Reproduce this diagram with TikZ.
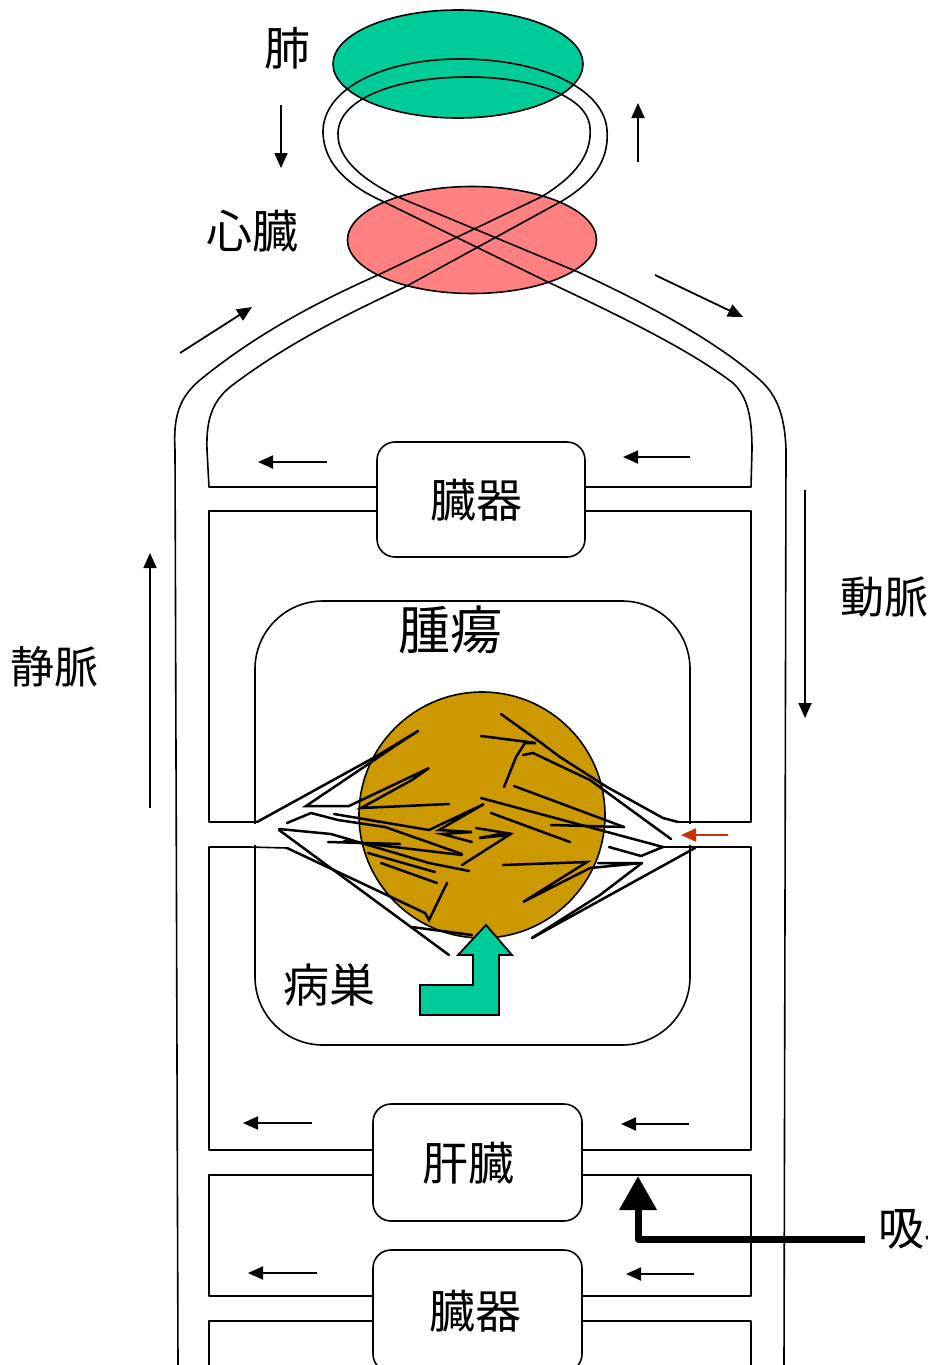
\documentclass[tikz,border=0pt]{standalone}
\usepackage{fontspec}
\newfontfamily\jp{Noto Sans CJK JP}
\usetikzlibrary{arrows.meta,shapes.geometric}
\definecolor{lunggreen}{HTML}{00CC99}
\definecolor{heartred}{HTML}{FF8080}
\definecolor{tumorbrown}{HTML}{CC9900}
\definecolor{flowred}{HTML}{CC3300}

\begin{document}
\begin{tikzpicture}[x=1pt,y=-1pt,
  wall/.style={line width=1.6pt, line join=round},
  vessel/.style={line width=2.5pt, line join=miter, line cap=round},
  flow/.style={line width=1.8pt, -{Triangle[length=15pt,width=13pt]}},
  organ/.style={draw, line width=1.6pt, rounded corners=18pt, fill=white,
    minimum width=208pt, minimum height=115pt, inner sep=0pt},
  lbl/.style={font=\jp\fontsize{46}{46}\selectfont, inner sep=0pt}
]
\useasboundingbox (0,0) rectangle (928,1365);
\fill[white] (0,0) rectangle (928,1365);

% lungs and heart
\node[draw, ellipse, fill=lunggreen, line width=1.6pt,
  minimum width=250pt, minimum height=108pt] (lung) at (458,64) {};
\node[draw, ellipse, fill=heartred, line width=1.6pt,
  minimum width=249pt, minimum height=107pt] (heart) at (472,240) {};

% organ boxes
\node[organ] (organA) at (481,499.5) {};
\node[organ, minimum width=209pt, minimum height=117pt] (liver) at (477.5,1162.5) {};
\node[organ, minimum width=209pt, minimum height=122pt] (organB) at (477.5,1311) {};
\node[lbl] (organAtext) at (476,500) {臓器};
\node[lbl] (livertext) at (468,1163) {肝臓};
\node[lbl] (organBtext) at (475,1311) {臓器};

% branch corner points on the vein (left) and artery (right)
\coordinate (vA1) at (209,487);  \coordinate (aA1) at (751,487);
\coordinate (vA2) at (209,511);  \coordinate (aA2) at (751,511);
\coordinate (vT1) at (209,822);  \coordinate (aT1) at (751,822);
\coordinate (vT2) at (209,847);  \coordinate (aT2) at (751,847);
\coordinate (vL1) at (209,1150); \coordinate (aL1) at (751,1150);
\coordinate (vL2) at (209,1175); \coordinate (aL2) at (751,1175);
\coordinate (vB1) at (209,1296); \coordinate (aB1) at (751,1296);
\coordinate (vB2) at (209,1321); \coordinate (aB2) at (751,1321);
\coordinate (vEnd) at (209,1365); \coordinate (aEnd) at (751,1365);

% outer wall: vein -> inner loop through the lung -> artery
\draw[wall] (178,1365) -- (175,450)
  .. controls (173,415) and (180,397) .. (200,380)
  .. controls (255,335) and (315,303) .. (378,275)
  -- (541,197)
  .. controls (578,175) and (592,152) .. (590,128)
  .. controls (588,95) and (530,77) .. (468,77)
  .. controls (400,77) and (339,97) .. (338,133)
  .. controls (337,160) and (365,181) .. (398,197)
  -- (578,272)
  .. controls (645,303) and (715,340) .. (760,380)
  .. controls (778,396) and (785,418) .. (786,450)
  -- (784,1365);

% inner wall: vein -> outer loop through the lung -> artery
\draw[wall] (organA.west |- vA1) -- (vA1) -- (207,450)
  .. controls (206,420) and (212,402) .. (230,387)
  .. controls (285,345) and (345,315) .. (405,287)
  -- (562,201)
  .. controls (597,180) and (609,157) .. (607,130)
  .. controls (604,88) and (540,59) .. (460,59)
  .. controls (385,59) and (322,88) .. (323,133)
  .. controls (324,165) and (350,186) .. (380,200)
  -- (550,283)
  .. controls (620,316) and (690,350) .. (733,383)
  .. controls (748,397) and (752,418) .. (752,450)
  -- (aA1) -- (organA.east |- aA1);

% tumour compartment
\draw[wall, fill=white, rounded corners=68pt] (255,601) rectangle (690,1045);
\fill[white] (250,823.6) rectangle (696,845.4);
\node[lbl, font=\jp\fontsize{52}{52}\selectfont] (tumorlabel) at (450,630) {腫瘍};

% branch walls
\draw[wall] (organA.west |- vA2) -- (vA2) -- (vT1) -- (257,822);
\draw[wall] (organA.east |- aA2) -- (aA2) -- (aT1) -- (678,822);
\draw[wall] (liver.west |- vL1) -- (vL1) -- (vT2) -- (250,847) -- (287,848);
\draw[wall] (liver.east |- aL1) -- (aL1) -- (aT2) -- (663,847);
\draw[wall] (liver.west |- vL2) -- (vL2) -- (vB1) -- (organB.west |- vB1);
\draw[wall] (liver.east |- aL2) -- (aL2) -- (aB1) -- (organB.east |- aB1);
\draw[wall] (organB.west |- vB2) -- (vB2) -- (vEnd);
\draw[wall] (organB.east |- aB2) -- (aB2) -- (aEnd);

% tumour mass
\node[circle, draw, fill=tumorbrown, line width=1.6pt, minimum size=246pt, inner sep=0pt]
  (tumor) at (482,815) {};

% tumour vessels
\draw[vessel] (257,822) -- (375,757) -- (418,731);
\draw[vessel] (418,731) -- (398,744) -- (306,806) -- (349,806) -- (429,768) -- (412,780) -- (361,808) -- (449,804);
\draw[vessel] (334,814) -- (429,830) -- (484,804) -- (439,830) -- (472,832) -- (442,834) -- (472,842);
\draw[vessel] (287,823) -- (311,813) -- (338,820) -- (385,827) -- (462,854);
\draw[vessel] (279,829) -- (331,834) -- (429,863) -- (469,871);
\draw[vessel] (328,842) -- (400,844);
\draw[vessel] (344,841) -- (462,855);
\draw[vessel] (368,853) -- (435,872);
\draw[vessel] (381,863) -- (437,883);
\draw[vessel] (287,848) -- (355,880) -- (425,913) -- (429,920) -- (447,883);
\draw[vessel] (279,830) -- (449,955);
\draw[vessel] (412,927) -- (472,935);
\draw[vessel] (481,736) -- (536,743) -- (525,743) -- (516,757) -- (504,787);
\draw[vessel] (501,714) -- (540,742) -- (560,757) -- (607,787) -- (663,818) -- (678,822);
\draw[vessel] (523,755) -- (533,753) -- (590,780) -- (671,839);
\draw[vessel] (514,786) -- (624,827);
\draw[vessel] (481,798) -- (663,847) -- (641,856) -- (609,847);
\draw[vessel] (491,813) -- (570,842);
\draw[vessel] (551,825) -- (624,827);
\draw[vessel] (476,828) -- (506,833) -- (479,838) -- (509,835) -- (462,865);
\draw[vessel] (503,865) -- (587,862) -- (523,902) -- (590,868) -- (642,863) -- (598,863);
\draw[vessel] (532,938) -- (600,895) -- (642,863);
\draw[vessel] (532,938) -- (695,848);

% focus arrow
\draw[line width=1.8pt, fill=lunggreen, line join=miter]
  (420,985) -- (473,985) -- (473,955) -- (458,955) -- (486,925) -- (512,955)
  -- (499,955) -- (499,1015) -- (420,1015) -- cycle;

% flow arrows
\coordinate (f1s) at (281,105);  \coordinate (f1e) at (281,168);
\coordinate (f2s) at (638,162);  \coordinate (f2e) at (638,103);
\coordinate (f3s) at (180,353);  \coordinate (f3e) at (252,307);
\coordinate (f4s) at (655,275);  \coordinate (f4e) at (743,317);
\coordinate (f5s) at (327,462);  \coordinate (f5e) at (258,462);
\coordinate (f6s) at (690,457);  \coordinate (f6e) at (623,457);
\coordinate (f7s) at (150,808);  \coordinate (f7e) at (150,553);
\coordinate (f8s) at (805,490);  \coordinate (f8e) at (805,718);
\coordinate (f9s) at (312,1123); \coordinate (f9e) at (243,1123);
\coordinate (f10s) at (689,1124); \coordinate (f10e) at (621,1124);
\coordinate (f11s) at (317,1273); \coordinate (f11e) at (248,1273);
\coordinate (f12s) at (694,1274); \coordinate (f12e) at (626,1274);
\foreach \i in {1,...,12} \draw[flow] (f\i s) -- (f\i e);

\coordinate (rs) at (728,835); \coordinate (re) at (681,835);
\draw[flowred, line width=2pt, -{Triangle[length=15pt,width=13pt]}] (rs) -- (re);

% absorption
\node[lbl, anchor=west] (absorb) at (878,1228) {吸収};
\coordinate (abs0) at (865,1239);
\coordinate (abs1) at (638,1239);
\coordinate (abs2) at (638,1176);
\draw[line width=7pt, line join=round, -{Triangle[length=34pt,width=36pt]}]
  (abs0) -- (abs1) -- (abs2);

% labels
\node[lbl] (lunglabel) at (287,48) {肺};
\node[lbl] (heartlabel) at (252,231) {心臓};
\node[lbl, font=\jp\fontsize{44}{44}\selectfont] (artery) at (884,597) {動脈};
\node[lbl, font=\jp\fontsize{44}{44}\selectfont] (vein) at (54,667) {静脈};
\node[lbl] (focus) at (329,985) {病巣};
\end{tikzpicture}
\end{document}
